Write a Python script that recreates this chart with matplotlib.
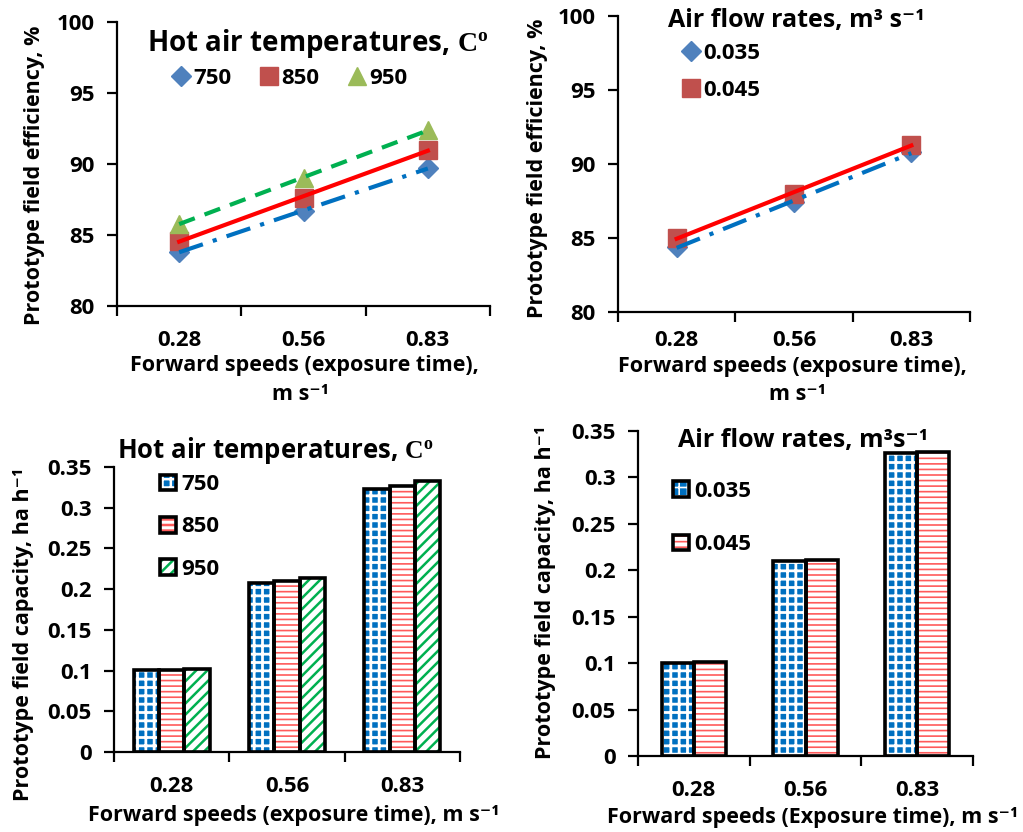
import numpy as np
import matplotlib
matplotlib.use("Agg")
import matplotlib.pyplot as plt
from matplotlib.patches import Patch
from matplotlib.legend_handler import HandlerTuple

plt.rcParams['font.family'] = ['Open Sans', 'DejaVu Sans']
plt.rcParams['font.weight'] = 'bold'
plt.rcParams['mathtext.fontset'] = 'custom'
plt.rcParams['mathtext.bf'] = 'Liberation Serif:bold'
plt.rcParams['mathtext.rm'] = 'Liberation Serif:bold'

# ---------------- data ----------------
speeds = ["0.28", "0.56", "0.83"]

temp_labels = ["750", "850", "950"]
eff_750 = [83.8, 86.7, 89.7]
eff_850 = [84.6, 87.6, 91.0]
eff_950 = [85.8, 89.0, 92.4]

flow_labels = ["0.035", "0.045"]
eff_035 = [84.4, 87.4, 90.8]
eff_045 = [85.0, 88.0, 91.3]

cap_750 = [0.101, 0.208, 0.323]
cap_850 = [0.101, 0.210, 0.327]
cap_950 = [0.102, 0.214, 0.333]

cap_035 = [0.100, 0.210, 0.326]
cap_045 = [0.101, 0.211, 0.327]

W, H = 1023, 832
fig = plt.figure(figsize=(W / 100, H / 100), dpi=100)

TICK = 16
LAB = 15.5
LEG = 16


def fx(px):
    return px / W


def fy(py):
    return 1 - py / H


def ax_at(l, t, r, b):
    return fig.add_axes([fx(l), fy(b), fx(r - l), (b - t) / H])


def style_axes(ax, ymin, ymax, ystep, yfmt, xpad):
    for s in ['top', 'right']:
        ax.spines[s].set_visible(False)
    for s in ['left', 'bottom']:
        ax.spines[s].set_linewidth(1.6)
        ax.spines[s].set_color('black')
    ticks = np.arange(ymin, ymax + ystep / 2, ystep)
    ax.set_ylim(ymin, ymax)
    ax.set_yticks(ticks)
    ax.set_yticklabels([yfmt(v) for v in ticks])
    ax.set_xlim(-0.5, len(speeds) - 0.5)
    ax.set_xticks(np.arange(-0.5, len(speeds), 1.0))
    ax.set_xticklabels([])
    ax.set_xticks(np.arange(len(speeds)), minor=True)
    ax.set_xticklabels(speeds, minor=True)
    ax.tick_params(axis='x', which='major', length=7, width=1.6, direction='out')
    ax.tick_params(axis='x', which='minor', length=0, pad=xpad, labelsize=TICK)
    ax.tick_params(axis='y', length=7, width=1.6, direction='out', pad=9, labelsize=TICK)
    for lab in ax.get_xticklabels(minor=True) + ax.get_yticklabels():
        lab.set_fontweight('bold')


def fmt_int(v):
    return f"{v:.0f}"


def fmt_cap(v):
    if abs(v) < 1e-9:
        return "0"
    s = f"{v:.2f}"
    if s.endswith('0'):
        s = s[:-1]
    return s


x = np.arange(len(speeds))

# ---------------- top-left ----------------
ax1 = ax_at(117, 22, 490, 306)
style_axes(ax1, 80, 100, 5, fmt_int, 17)
series_tl = [
    (eff_750, 'D', '#4f81bd', '#0070c0', (0, (6, 2.5, 1, 2.5)), 10),
    (eff_850, 's', '#c0504d', '#ff0000', '-', 13),
    (eff_950, '^', '#9bbb59', '#00b050', (0, (4, 2.5)), 13),
]
handles = []
for (vals, mk, mc, lc, ls, ms), lab in zip(series_tl, temp_labels):
    h, = ax1.plot(x, vals, linestyle='none', marker=mk, color=mc, markersize=ms, zorder=3)
    handles.append(h)
    p = np.polyfit(x, vals, 1)
    ax1.plot(x, np.polyval(p, x), color=lc, linestyle=ls, linewidth=3, zorder=4)
fig.legend(handles, temp_labels, loc='center', bbox_to_anchor=(fx(289), fy(78)),
           ncol=3, frameon=False, handletextpad=0.05, columnspacing=1.2,
           handlelength=1.0, prop={'weight': 'bold', 'size': LEG})
fig.text(fx(318), fy(43), r"Hot air temperatures, $\mathbf{C^o}$", ha='center', va='center',
         fontsize=20, fontweight='bold')
fig.text(fx(35), fy(175), "Prototype field efficiency, %", rotation=90, ha='center', va='center',
         fontsize=LAB, fontweight='bold')
fig.text(fx(304), fy(366), "Forward speeds (exposure time),", ha='center', va='center',
         fontsize=LAB, fontweight='bold')
fig.text(fx(300), fy(394), "m s\u207b\u00b9", ha='center', va='center',
         fontsize=LAB, fontweight='bold')

# ---------------- top-right ----------------
ax2 = ax_at(618, 16, 970, 312)
style_axes(ax2, 80, 100, 5, fmt_int, 13)
series_tr = [
    (eff_035, 'D', '#4f81bd', '#0070c0', (0, (6, 2.5, 1, 2.5)), 10),
    (eff_045, 's', '#c0504d', '#ff0000', '-', 13),
]
handles = []
for (vals, mk, mc, lc, ls, ms), lab in zip(series_tr, flow_labels):
    h, = ax2.plot(x, vals, linestyle='none', marker=mk, color=mc, markersize=ms, zorder=3)
    handles.append(h)
    p = np.polyfit(x, vals, 1)
    ax2.plot(x, np.polyval(p, x), color=lc, linestyle=ls, linewidth=3, zorder=4)
fig.legend(handles, flow_labels, loc='center', bbox_to_anchor=(fx(720), fy(72)),
           ncol=1, frameon=False, handletextpad=0.05, labelspacing=0.7,
           handlelength=1.0, prop={'weight': 'bold', 'size': LEG})
fig.text(fx(796), fy(20), "Air flow rates, m\u00b3 s\u207b\u00b9", ha='center', va='center',
         fontsize=18, fontweight='bold')
fig.text(fx(537), fy(168), "Prototype field efficiency, %", rotation=90, ha='center', va='center',
         fontsize=LAB, fontweight='bold')
fig.text(fx(792), fy(367), "Forward speeds (exposure time),", ha='center', va='center',
         fontsize=LAB, fontweight='bold')
fig.text(fx(797), fy(395), "m s\u207b\u00b9", ha='center', va='center',
         fontsize=LAB, fontweight='bold')

# ---------------- bar styles ----------------
bar_styles = {
    'blue': dict(face='#0070c0', hcol='white', hatch='++', hlw=2.0),
    'red': dict(face='white', hcol='#ff5a5a', hatch='---', hlw=1.2),
    'green': dict(face='white', hcol='#00b050', hatch='///', hlw=1.8),
}


def set_hlw(p, w):
    if hasattr(p, 'set_hatch_linewidth'):
        p.set_hatch_linewidth(w)


def draw_bars(ax, xs, vals, width, st):
    s = bar_styles[st]
    plt.rcParams['hatch.linewidth'] = s['hlw']
    bars = ax.bar(xs, vals, width, color=s['face'], edgecolor=s['hcol'], hatch=s['hatch'],
                  linewidth=0, zorder=2)
    for b in bars:
        set_hlw(b, s['hlw'])
    ax.bar(xs, vals, width, fill=False, edgecolor='black', linewidth=2.6, zorder=3)
    hp = Patch(facecolor=s['face'], edgecolor=s['hcol'], hatch=s['hatch'], linewidth=0)
    set_hlw(hp, s['hlw'])
    bp = Patch(fill=False, edgecolor='black', linewidth=2.6)
    return (hp, bp)


# ---------------- bottom-left ----------------
ax3 = ax_at(114, 467, 460, 752)
style_axes(ax3, 0, 0.35, 0.05, fmt_cap, 17)
bw = 0.22
handles = []
for i, (vals, st) in enumerate(zip([cap_750, cap_850, cap_950], ['blue', 'red', 'green'])):
    handles.append(draw_bars(ax3, x + (i - 1) * bw, vals, bw, st))
fig.legend(handles, temp_labels, loc='center', bbox_to_anchor=(fx(190), fy(527)),
           frameon=False, handler_map={tuple: HandlerTuple(ndivide=1)},
           handlelength=0.7, handleheight=0.7, handletextpad=0.25, labelspacing=0.95,
           prop={'weight': 'bold', 'size': LEG})
fig.text(fx(275), fy(450), r"Hot air temperatures, $\mathbf{C^o}$", ha='center', va='center',
         fontsize=18.5, fontweight='bold')
fig.text(fx(24), fy(634), "Prototype field capacity, ha h\u207b\u00b9", rotation=90, ha='center',
         va='center', fontsize=LAB, fontweight='bold')
fig.text(fx(294), fy(815), "Forward speeds (exposure time), m s\u207b\u00b9", ha='center',
         va='center', fontsize=LAB, fontweight='bold')

# ---------------- bottom-right ----------------
ax4 = ax_at(638, 431, 973, 756)
style_axes(ax4, 0, 0.35, 0.05, fmt_cap, 17)
bw = 0.287
handles = []
for i, (vals, st) in enumerate(zip([cap_035, cap_045], ['blue', 'red'])):
    handles.append(draw_bars(ax4, x + (i - 0.5) * bw, vals, bw, st))
fig.legend(handles, flow_labels, loc='center', bbox_to_anchor=(fx(712), fy(518)),
           frameon=False, handler_map={tuple: HandlerTuple(ndivide=1)},
           handlelength=0.7, handleheight=0.7, handletextpad=0.25, labelspacing=1.45,
           prop={'weight': 'bold', 'size': LEG})
fig.text(fx(803), fy(440), "Air flow rates, m\u00b3s\u207b\u00b9", ha='center', va='center',
         fontsize=18, fontweight='bold')
fig.text(fx(545), fy(592), "Prototype field capacity, ha h\u207b\u00b9", rotation=90, ha='center',
         va='center', fontsize=LAB, fontweight='bold')
fig.text(fx(813), fy(818), "Forward speeds (Exposure time), m s\u207b\u00b9", ha='center',
         va='center', fontsize=LAB, fontweight='bold')

fig.savefig("out.png", dpi=100, facecolor='white')
